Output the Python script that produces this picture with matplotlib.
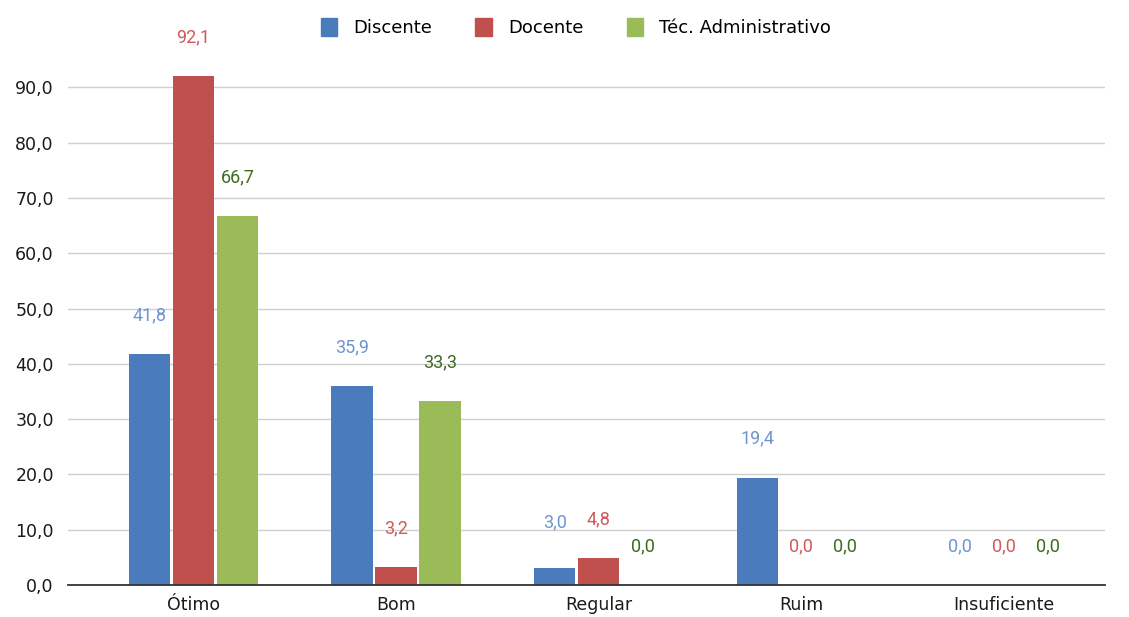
import numpy as np
import matplotlib.pyplot as plt
from matplotlib.patches import Patch

categorias = ['Ótimo', 'Bom', 'Regular', 'Ruim', 'Insuficiente']
discente = [41.8, 35.9, 3.0, 19.4, 0.0]
docente = [92.1, 3.2, 4.8, 0.0, 0.0]
tecnico = [66.7, 33.3, 0.0, 0.0, 0.0]
series = ['Discente', 'Docente', 'Téc. Administrativo']

cores = ['#4a7bbd', '#c0504d', '#9bbb59']
cores_rot = ['#6f95cf', '#d05a5a', '#3d6b1f']

fig = plt.figure(figsize=(11.29, 6.17), dpi=100)
ax = fig.add_axes([0.060, 0.052, 0.919, 0.851])

x = np.arange(len(categorias))
w = 0.205
dados = [discente, docente, tecnico]
for k, vals in enumerate(dados):
    pos = x + (k - 1) * (w + 0.012)
    ax.bar(pos, vals, width=w, color=cores[k], zorder=3)
    for p, v in zip(pos, vals):
        # o rotulo 3,0 fica um pouco mais alto no original
        dy = 33 if (k == 0 and v == 3.0) else 28
        ax.annotate(f'{v:.1f}'.replace('.', ','), (p, v), xytext=(0, dy),
                    textcoords='offset points', ha='center', va='center',
                    color=cores_rot[k], fontsize=13, family='Roboto',
                    annotation_clip=False)

ax.set_xlim(-0.62, 4.5)
ax.set_ylim(0, 95)
ax.set_yticks(np.arange(0, 91, 10))
ax.set_yticklabels([f'{t:.1f}'.replace('.', ',') for t in np.arange(0, 91, 10)])
ax.set_xticks(x)
ax.set_xticklabels(categorias)
ax.tick_params(axis='both', length=0, labelsize=12.5, colors='#1a1a1a')
ax.tick_params(axis='x', pad=8)
ax.tick_params(axis='y', pad=10)
ax.grid(axis='y', color='#d0d0d0', linewidth=1, zorder=0)
for s in ['top', 'right', 'left']:
    ax.spines[s].set_visible(False)
ax.spines['bottom'].set_color('#333333')
ax.spines['bottom'].set_linewidth(1.3)
ax.spines['bottom'].set_zorder(4)

handles = [Patch(color=c, label=s) for c, s in zip(cores, series)]
fig.legend(handles=handles, loc='center', bbox_to_anchor=(0.51, 0.955), ncol=3,
           frameon=False, fontsize=13, handlelength=0.9, handleheight=1.1,
           columnspacing=2.4, handletextpad=0.9)

fig.savefig('out.png', dpi=100)
